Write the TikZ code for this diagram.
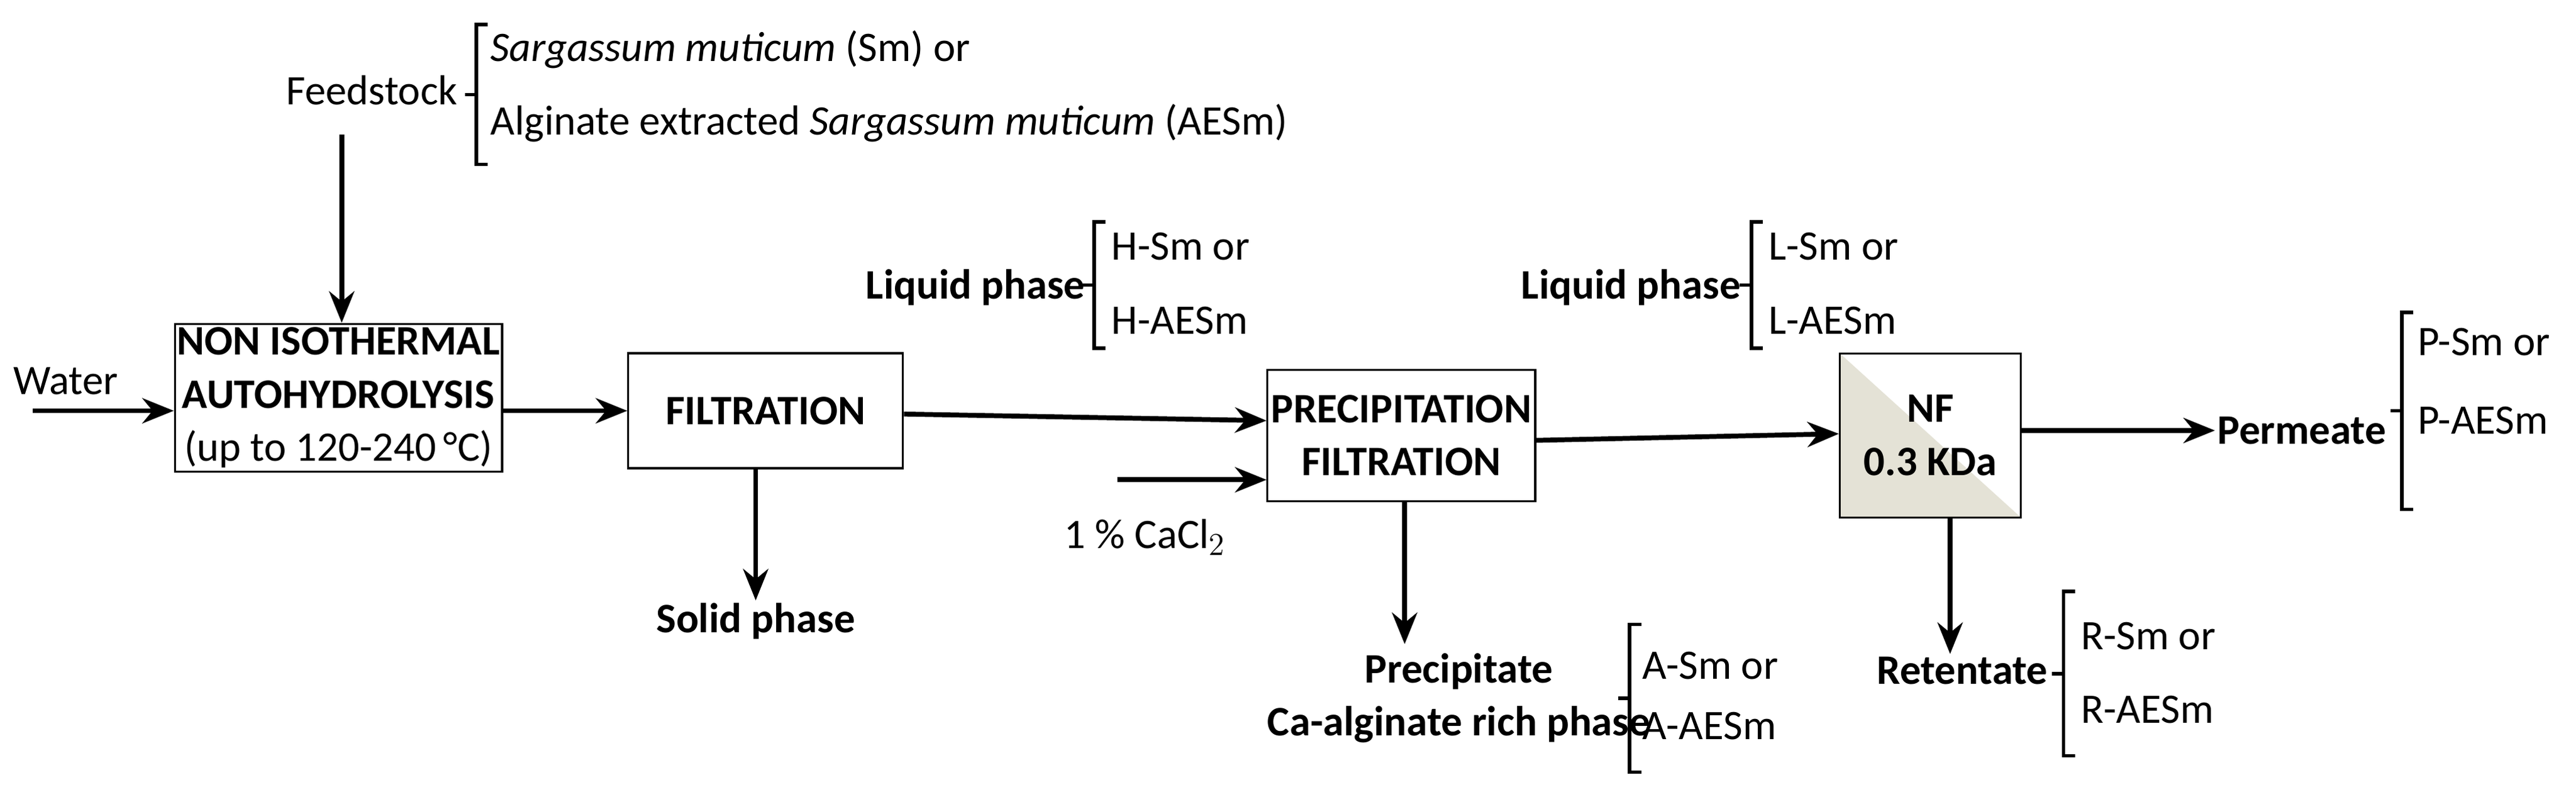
\documentclass[tikz,border=0pt]{standalone}
\usepackage{fontspec}
\setmainfont{Carlito}
\usetikzlibrary{arrows.meta, positioning}
\definecolor{nfgray}{RGB}{228,226,214}

\begin{document}
\begin{tikzpicture}[
  x=0.02614cm, y=-0.02614cm,
  every node/.style={font=\fontsize{19}{22}\selectfont, inner sep=1pt},
  box/.style={rectangle, draw, line width=0.9pt, align=center, font=\fontsize{19}{24}\selectfont},
  lbl/.style={font=\fontsize{19}{24}\selectfont\bfseries, align=center},
  arrow/.style={-{Stealth[length=5mm, width=4mm]}, line width=2.2pt},
  brk/.style={line width=1.6pt}
]
\useasboundingbox (0,0) rectangle (1568,488);

% Process boxes
\node[box, minimum width=5.15cm, minimum height=2.35cm] (hyd) at (206,242)
  {\textbf{NON ISOTHERMAL}\\\textbf{AUTOHYDROLYSIS}\\(up to 120-240\,\textdegree C)};
\node[box, minimum width=4.37cm, minimum height=1.83cm] (filt) at (466,250) {\textbf{FILTRATION}};
\node[box, minimum width=4.26cm, minimum height=2.09cm] (prec) at (853,265) {\textbf{PRECIPITATION}\\\textbf{FILTRATION}};
\node[box, minimum width=2.88cm, minimum height=2.61cm,
  path picture={\fill[nfgray] (path picture bounding box.north west) -- (path picture bounding box.south west) -- (path picture bounding box.south east) -- cycle;}] (nf) at (1175,265) {\textbf{NF}\\\textbf{0.3 KDa}};

% Inputs and outputs
\node[anchor=east] (feed) at (280,55) {Feedstock};
\node (water) at (40,232) {Water};
\coordinate (win) at (20,250);
\coordinate (cain) at (680,292);
\node (cacl) at (697,327) {1 \% CaCl$_2$};
\node[lbl] (solid) at (460,378) {Solid phase};
\node[lbl] (ppt) at (888,425) {Precipitate\\Ca-alginate rich phase};
\coordinate (pptin) at (855,392);
\node[lbl, anchor=east] (ret) at (1248,408) {Retentate};
\node[lbl, anchor=east] (perm) at (1454,262) {Permeate};
\node[lbl, anchor=east] (liq1) at (662,175) {Liquid phase};
\node[lbl, anchor=east] (liq2) at (1061,175) {Liquid phase};

% Arrows
\draw[arrow] (208,82) -- (hyd.north -| 208,0);
\draw[arrow] (win) -- (hyd.west |- win);
\draw[arrow] (hyd.east |- 0,250) -- (filt.west |- 0,250);
\draw[arrow] (filt.south -| solid) -- (solid.north);
\draw[arrow] (filt.east |- 0,252) -- (prec.west |- 0,256);
\draw[arrow] (cain) -- (prec.west |- cain);
\draw[arrow] (prec.south -| pptin) -- (pptin);
\draw[arrow] (prec.east |- 0,268) -- (nf.west |- 0,264);
\draw[arrow] (nf.south -| 1187,0) -- (ret.north -| 1187,0);
\draw[arrow] (nf.east |- perm) -- (perm.west);

% Brackets
\foreach \bx/\ta/\tb in {290/15/100, 666/135/212, 1066/135/212, 992/380/470, 1256/360/460, 1462/190/310} {
  \draw[brk] (\bx+7,\ta) -- (\bx,\ta) -- (\bx,\tb) -- (\bx+7,\tb);
  \draw[brk] (\bx-7,{(\ta+\tb)/2}) -- (\bx,{(\ta+\tb)/2});
}

% Bracket texts
\node[anchor=west] at (297,30) {\textit{Sargassum muticum} (Sm) or};
\node[anchor=west] at (297,75) {Alginate extracted \textit{Sargassum muticum} (AESm)};
\node[anchor=west] at (675,150) {H-Sm or};
\node[anchor=west] at (675,195) {H-AESm};
\node[anchor=west] at (1075,150) {L-Sm or};
\node[anchor=west] at (1075,195) {L-AESm};
\node[anchor=west] at (998,405) {A-Sm or};
\node[anchor=west] at (998,442) {A-AESm};
\node[anchor=west] at (1265,387) {R-Sm or};
\node[anchor=west] at (1265,432) {R-AESm};
\node[anchor=west] at (1470,208) {P-Sm or};
\node[anchor=west] at (1470,256) {P-AESm};

\end{tikzpicture}
\end{document}
